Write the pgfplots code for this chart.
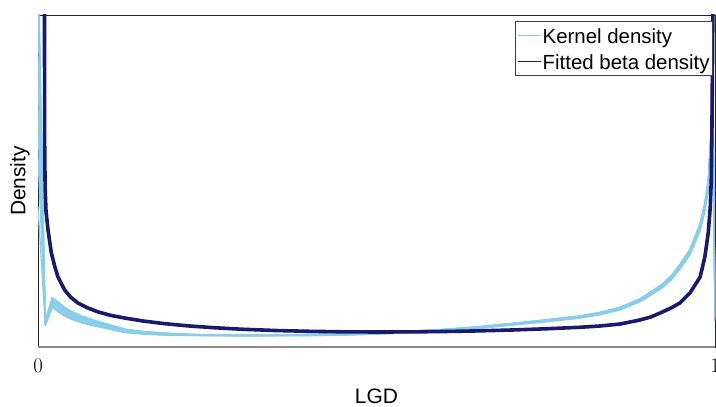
\documentclass[border=0pt]{standalone}
\usepackage{pgfplots}
\usepackage{pgfplotstable}
\usepackage{fontspec}
\setmainfont{Liberation Sans}
\pgfplotsset{compat=1.18}

\definecolor{kernelblue}{RGB}{135,206,235}
\definecolor{betablue}{RGB}{25,25,112}

% Kernel density estimates of LGD, one column per sample
\pgfplotstableread{
x      k1    k2    k3    k4    k5    k6    k7    k8    k9    k10
0      1.4   1.9   2.4   2.9   3.3   3.6   4.0   2.2   2.7   3.8
0.0108 0.210 0.222 0.231 0.240 0.249 0.258 0.270 0.216 0.264 0.245
0.021  0.395 0.415 0.430 0.445 0.460 0.475 0.495 0.405 0.485 0.453
0.03   0.350 0.370 0.385 0.400 0.415 0.430 0.450 0.360 0.440 0.408
0.04   0.305 0.323 0.337 0.350 0.364 0.377 0.395 0.314 0.386 0.357
0.05   0.275 0.291 0.303 0.315 0.327 0.339 0.355 0.283 0.347 0.321
0.065  0.240 0.254 0.265 0.275 0.286 0.296 0.310 0.247 0.303 0.280
0.08   0.215 0.227 0.236 0.245 0.254 0.263 0.275 0.221 0.269 0.250
0.10   0.185 0.195 0.203 0.210 0.218 0.225 0.235 0.190 0.230 0.214
0.13   0.142 0.149 0.155 0.160 0.165 0.171 0.178 0.146 0.174 0.163
0.16   0.126 0.132 0.136 0.140 0.144 0.148 0.154 0.129 0.151 0.142
0.20   0.115 0.119 0.122 0.125 0.128 0.131 0.135 0.117 0.133 0.127
0.25   0.115 0.112 0.121 0.116 0.122 0.116 0.122 0.118 0.120 0.120
0.30   0.113 0.110 0.117 0.114 0.118 0.114 0.119 0.115 0.117 0.117
0.35   0.114 0.111 0.118 0.115 0.119 0.115 0.120 0.116 0.118 0.118
0.40   0.122 0.114 0.127 0.117 0.124 0.113 0.120 0.126 0.119 0.123
0.45   0.127 0.119 0.132 0.122 0.129 0.118 0.125 0.131 0.124 0.128
0.50   0.137 0.129 0.143 0.132 0.140 0.127 0.135 0.141 0.133 0.139
0.55   0.152 0.144 0.158 0.147 0.155 0.142 0.150 0.156 0.148 0.154
0.60   0.172 0.164 0.178 0.167 0.175 0.162 0.170 0.176 0.168 0.174
0.65   0.198 0.188 0.204 0.191 0.200 0.186 0.195 0.202 0.193 0.199
0.70   0.231 0.220 0.238 0.224 0.234 0.218 0.228 0.236 0.226 0.233
0.75   0.265 0.253 0.273 0.258 0.269 0.251 0.262 0.271 0.260 0.267
0.80   0.304 0.290 0.312 0.295 0.307 0.288 0.300 0.310 0.298 0.305
0.83   0.339 0.325 0.348 0.330 0.343 0.322 0.335 0.345 0.332 0.341
0.86   0.390 0.373 0.400 0.379 0.394 0.370 0.385 0.397 0.382 0.392
0.89   0.475 0.457 0.486 0.464 0.480 0.454 0.470 0.483 0.467 0.477
0.92   0.606 0.584 0.620 0.592 0.612 0.580 0.600 0.616 0.596 0.609
0.935  0.697 0.672 0.712 0.681 0.703 0.668 0.690 0.708 0.686 0.700
0.948  0.808 0.780 0.825 0.790 0.815 0.775 0.800 0.820 0.795 0.811
0.963  0.959 0.926 0.980 0.938 0.968 0.920 0.950 0.974 0.944 0.964
0.978  1.212 1.168 1.240 1.184 1.224 1.160 1.200 1.232 1.192 1.218
0.985  1.415 1.360 1.450 1.380 1.430 1.350 1.400 1.440 1.390 1.423
0.99   1.641 1.564 1.690 1.592 1.662 1.550 1.620 1.676 1.606 1.652
0.9935 2.030 1.920 2.100 1.960 2.060 1.900 2.000 2.080 1.980 2.045
0.9965 2.820 2.380 3.100 2.540 2.940 2.300 2.700 3.020 2.620 2.880
1      0.289 0.256 0.310 0.268 0.298 0.250 0.280 0.304 0.274 0.294
}\kerneldata

% Fitted beta density
\pgfplotstableread{
x      d
0.0092 4.5
0.0099 2.0
0.0105 1.6
0.0118 1.36
0.0148 1.17
0.0197 0.94
0.025  0.80
0.0295 0.70
0.0394 0.57
0.048  0.50
0.059  0.44
0.072  0.395
0.089  0.35
0.108  0.315
0.128  0.29
0.155  0.26
0.185  0.235
0.22   0.212
0.26   0.193
0.30   0.178
0.35   0.165
0.40   0.157
0.45   0.152
0.50   0.150
0.55   0.151
0.60   0.155
0.65   0.161
0.70   0.170
0.75   0.182
0.80   0.197
0.83   0.21
0.86   0.23
0.889  0.27
0.905  0.30
0.919  0.34
0.935  0.39
0.948  0.44
0.963  0.54
0.978  0.70
0.985  0.90
0.990  1.14
0.993  1.40
0.9945 1.67
0.9955 2.2
0.997  3.5
0.999  8
}\betadata

\begin{document}
\begin{tikzpicture}
\begin{axis}[
  scale only axis,
  width=677bp, height=332bp,
  xmin=0, xmax=1, ymin=0, ymax=3.32,
  xtick={0,1}, ytick=\empty,
  major tick length=0pt,
  clip mode=individual,
  axis line style={draw=black!85, line width=0.8bp},
  xticklabel style={anchor=center, yshift=-19bp, font=\fontsize{20}{24}\selectfont},
  xlabel={LGD}, ylabel={Density},
  label style={font=\fontsize{21}{25}\selectfont},
  xlabel style={at={(axis description cs:0.5,0)}, anchor=center, yshift=-49bp},
  ylabel style={at={(axis description cs:0,0.5)}, anchor=center, rotate=0, yshift=18bp},
  every axis plot/.append style={line join=round},
  legend cell align=left,
  legend image code/.code={\draw[#1, line width=1.4bp] (0bp,0bp) -- (23bp,0bp);},
  legend style={at={(rel axis cs:0.997,0.982)}, anchor=north east,
    draw=black!75, line width=0.8bp, inner xsep=2bp, inner ysep=1bp,
    font=\fontsize{20.5}{24}\selectfont, row sep=0bp,
    nodes={inner xsep=1bp, inner ysep=3bp, text height=18.5bp, text depth=1.5bp}},
]
\addplot[kernelblue, line width=1.2bp] table[x=x, y=k1] {\kerneldata};
\addlegendentry{Kernel density}
\addplot[kernelblue, line width=1.2bp, forget plot] table[x=x, y=k2] {\kerneldata};
\addplot[kernelblue, line width=1.2bp, forget plot] table[x=x, y=k3] {\kerneldata};
\addplot[kernelblue, line width=1.2bp, forget plot] table[x=x, y=k4] {\kerneldata};
\addplot[kernelblue, line width=1.2bp, forget plot] table[x=x, y=k5] {\kerneldata};
\addplot[kernelblue, line width=1.2bp, forget plot] table[x=x, y=k6] {\kerneldata};
\addplot[kernelblue, line width=1.2bp, forget plot] table[x=x, y=k7] {\kerneldata};
\addplot[kernelblue, line width=1.2bp, forget plot] table[x=x, y=k8] {\kerneldata};
\addplot[kernelblue, line width=1.2bp, forget plot] table[x=x, y=k9] {\kerneldata};
\addplot[kernelblue, line width=1.2bp, forget plot] table[x=x, y=k10] {\kerneldata};
\addplot[betablue, line width=3.6bp] table[x=x, y=d] {\betadata};
\addlegendentry{Fitted beta density}
\draw[black!45, line width=1.6bp] (rel axis cs:0,0) -- (rel axis cs:1,0);
\end{axis}
\pgfresetboundingbox
\path[use as bounding box] (-38bp,-60bp) rectangle (678bp,347bp);
\end{tikzpicture}
\end{document}
